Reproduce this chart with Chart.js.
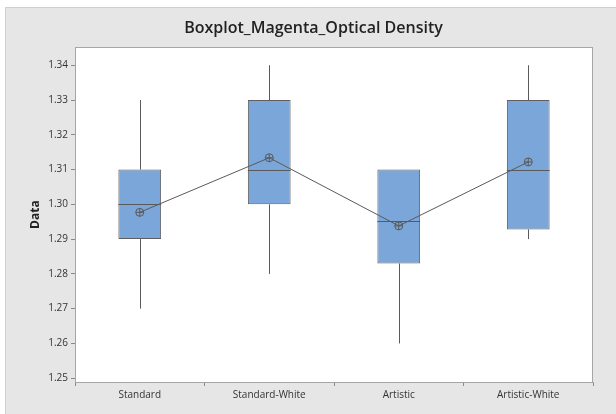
<!DOCTYPE html>
<html>
<head>
<meta charset="utf-8">
<script src="https://cdn.jsdelivr.net/npm/chart.js@4/dist/chart.umd.min.js"></script>
<style>
  html, body { margin: 0; padding: 0; background: #ffffff; }
  #wrap { width: 616px; height: 414px; }
</style>
</head>
<body>
<div id="wrap"><canvas id="c" width="616" height="414"></canvas></div>
<script>
// Groups and five-number summaries of magenta optical density
const categories = ['Standard', 'Standard-White', 'Artistic', 'Artistic-White'];
const whiskerLow  = [1.27, 1.28, 1.26, 1.29];
const q1          = [1.29, 1.30, 1.283, 1.2928];
const medians     = [1.30, 1.31, 1.2951, 1.31];
const q3          = [1.31, 1.33, 1.31, 1.33];
const whiskerHigh = [1.33, 1.34, 1.31, 1.34];
const means       = [1.2977, 1.3134, 1.2938, 1.3122];
const yTicks      = [1.25, 1.26, 1.27, 1.28, 1.29, 1.30, 1.31, 1.32, 1.33, 1.34];

const FRAME_BG = '#e6e6e6';
const LINE = '#5a5a5a';

// Frame background, white plot area and its border
const framePlugin = {
  id: 'frame',
  beforeDraw(chart) {
    const { ctx, width, height, chartArea: a } = chart;
    ctx.save();
    ctx.fillStyle = '#ffffff';
    ctx.fillRect(0, 0, width, height);
    ctx.fillStyle = FRAME_BG;
    ctx.fillRect(5, 7, width - 5, height - 7);
    ctx.strokeStyle = '#cfcfcf';
    ctx.lineWidth = 1;
    ctx.beginPath();
    ctx.moveTo(5.5, height);
    ctx.lineTo(5.5, 7.5);
    ctx.lineTo(width, 7.5);
    ctx.stroke();
    ctx.fillStyle = '#ffffff';
    ctx.fillRect(a.left, a.top, a.right - a.left, a.bottom - a.top);
    ctx.restore();
  },
  afterDraw(chart) {
    const { ctx, chartArea: a } = chart;
    ctx.save();
    ctx.strokeStyle = '#a6a6a6';
    ctx.lineWidth = 1;
    ctx.strokeRect(Math.round(a.left) + 0.5, Math.round(a.top) + 0.5,
                   Math.round(a.right - a.left) - 1, Math.round(a.bottom - a.top));
    ctx.restore();
  }
};

// Whiskers behind the boxes, medians across them
const boxPlugin = {
  id: 'boxparts',
  beforeDatasetsDraw(chart) {
    const { ctx, scales: { x, y } } = chart;
    ctx.save();
    ctx.strokeStyle = LINE;
    ctx.lineWidth = 1;
    categories.forEach((c, i) => {
      const px = Math.round(x.getPixelForValue(i)) + 0.5;
      ctx.beginPath();
      ctx.moveTo(px, y.getPixelForValue(whiskerHigh[i]));
      ctx.lineTo(px, y.getPixelForValue(q3[i]));
      ctx.moveTo(px, y.getPixelForValue(q1[i]));
      ctx.lineTo(px, y.getPixelForValue(whiskerLow[i]));
      ctx.stroke();
    });
    ctx.restore();
  },
  afterDatasetDraw(chart, args) {
    if (args.index !== 0) return;
    const { ctx, scales: { y } } = chart;
    const meta = chart.getDatasetMeta(0);
    ctx.save();
    ctx.strokeStyle = LINE;
    ctx.lineWidth = 1;
    meta.data.forEach((bar, i) => {
      const py = Math.round(y.getPixelForValue(medians[i])) + 0.5;
      ctx.beginPath();
      ctx.moveTo(bar.x - bar.width / 2, py);
      ctx.lineTo(bar.x + bar.width / 2, py);
      ctx.stroke();
    });
    ctx.restore();
  }
};

new Chart(document.getElementById('c'), {
  data: {
    labels: categories,
    datasets: [
      {
        type: 'bar',
        data: categories.map((c, i) => [q1[i], q3[i]]),
        backgroundColor: '#7ba6d9',
        borderColor: '#5f5f5f',
        borderWidth: 1,
        borderSkipped: false,
        barPercentage: 0.33,
        categoryPercentage: 1,
        order: 3
      },
      {
        type: 'line',
        data: means,
        borderColor: LINE,
        borderWidth: 1,
        pointStyle: 'circle',
        pointRadius: 4,
        pointBorderWidth: 1,
        pointBorderColor: LINE,
        pointBackgroundColor: 'rgba(0,0,0,0)',
        tension: 0,
        order: 2
      },
      {
        type: 'line',
        data: means,
        showLine: false,
        pointStyle: 'cross',
        pointRadius: 4,
        pointBorderWidth: 1,
        pointBorderColor: LINE,
        order: 1
      }
    ]
  },
  options: {
    responsive: false,
    animation: false,
    devicePixelRatio: 1,
    layout: { padding: { left: 34, right: 23, top: 0, bottom: 0 } },
    plugins: {
      legend: { display: false },
      tooltip: { enabled: false },
      title: {
        display: true,
        text: 'Boxplot_Magenta_Optical Density',
        color: '#222222',
        font: { family: 'Open Sans', size: 16, weight: '600' },
        padding: { top: 19, bottom: 9 }
      }
    },
    scales: {
      x: {
        type: 'category',
        offset: true,
        grid: { display: true, drawOnChartArea: false, drawTicks: true, tickLength: 4, color: '#8a8a8a' },
        border: { display: true, color: '#a6a6a6' },
        ticks: {
          color: '#333333',
          padding: 3,
          font: { family: 'Open Sans', size: 10 }
        },
        afterFit(s) { s.height = 32; }
      },
      y: {
        min: 1.2489,
        max: 1.3452,
        afterBuildTicks(s) { s.ticks = yTicks.map(v => ({ value: v })); },
        grid: { display: true, drawOnChartArea: false, drawTicks: true, tickLength: 4, color: '#8a8a8a' },
        border: { display: true, color: '#a6a6a6' },
        ticks: {
          color: '#333333',
          padding: 3,
          font: { family: 'Open Sans', size: 10 },
          callback: v => Number(v).toFixed(2)
        },
        title: {
          display: true,
          text: 'Data',
          color: '#222222',
          font: { family: 'Open Sans', size: 12, weight: 'bold' },
          padding: { top: -6, bottom: 0 }
        },
        afterFit(s) { s.width = 41; }
      }
    }
  },
  plugins: [framePlugin, boxPlugin]
});
</script>
</body>
</html>
